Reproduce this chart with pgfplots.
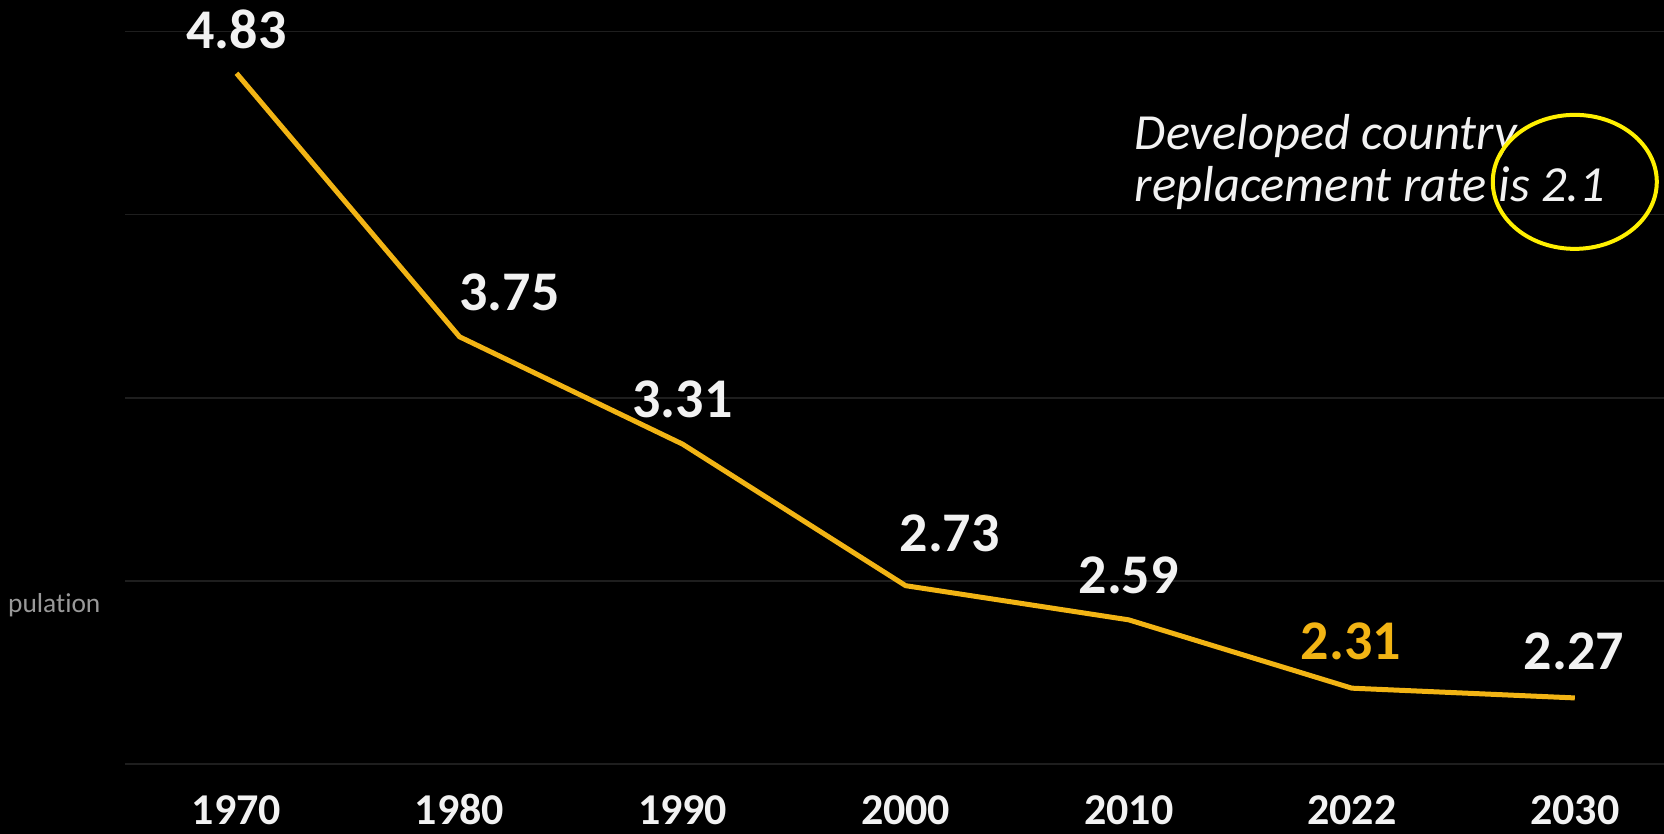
\documentclass[border=0pt]{standalone}
\usepackage{pgfplots}
\pgfplotsset{compat=1.18}
\usepackage{pgfplotstable}
\usepackage{fontspec}
\setmainfont{Carlito}
\newfontfamily\nolig{Carlito}[Ligatures=NoCommon]
\usetikzlibrary{calc,backgrounds}

\definecolor{lineor}{RGB}{242,180,20}
\definecolor{gridc}{RGB}{30,30,30}
\definecolor{txt}{RGB}{242,242,242}
\definecolor{ringy}{RGB}{255,240,0}

% x = category index (1970 ... 2030)
\pgfplotstableread{
x y
0 4.83
1 3.75
2 3.31
3 2.73
4 2.59
5 2.31
6 2.27
}\fertility

% white value labels, dx/dy = offset of the label in pt
\pgfplotstableread{
x y dx dy
0 4.83 0 21.75
1 3.75 25 22.25
2 3.31 0 22.5
3 2.73 22 26
4 2.59 0 22.5
6 2.27 -0.5 23.5
}\whitelabels

\begin{document}
\begin{tikzpicture}
\begin{axis}[
    scale only axis,
    width=769.5pt, height=366pt,
    xmin=-0.5, xmax=6.4,
    ymin=2, ymax=5,
    axis line style={draw=none},
    tick style={draw=none},
    ytick={2,2.75,3.5,4.25,5},
    yticklabels={},
    ymajorgrids,
    grid style={gridc, line width=0.7pt},
    xtick={0,...,6},
    xticklabels={1970,1980,1990,2000,2010,2022,2030},
    xticklabel style={anchor=base, yshift=-30.5pt, inner sep=0pt, text=txt,
        font=\bfseries\fontsize{22}{26}\selectfont},
    clip=false,
]
\addplot[lineor, line width=2.5pt, mark=none] table[x=x, y=y]{\fertility};

% value labels
\addplot[draw=none, mark=none,
    point meta=explicit symbolic,
    visualization depends on={\thisrow{dx}\as\dx},
    visualization depends on={\thisrow{dy}\as\dy},
    nodes near coords,
    nodes near coords style={anchor=center, xshift=\dx pt, yshift=\dy pt,
        text=txt, font=\bfseries\fontsize{28}{32}\selectfont},
] table[x=x, y=y, meta=y]{\whitelabels};

\addplot[draw=none, mark=none,
    point meta=explicit symbolic,
    nodes near coords,
    nodes near coords style={anchor=center, xshift=-0.5pt, yshift=23.3pt,
        text=lineor, font=\bfseries\fontsize{28}{32}\selectfont},
] coordinates {(5,2.31) [2.31]};

\node[anchor=base west, text=txt, font=\itshape\fontsize{25.3}{30}\selectfont]
    at (axis cs:3.996,4.516) {Developed country};
\node[anchor=base west, text=txt, font=\itshape\fontsize{25.3}{30}\selectfont]
    at (axis cs:3.996,4.303) {replacement rate is 2.1};
\node[anchor=east, xshift=-8.75pt, text=gray!80, font=\nolig\fontsize{13.7}{16}\selectfont]
    at (rel axis cs:0,0.2172) {pulation};

\coordinate (ell) at (axis cs:6.0,4.385);
\coordinate (bl) at (rel axis cs:0,0);
\coordinate (tr) at (rel axis cs:1,1);
\end{axis}

\draw[ringy, line width=2pt] (ell) ellipse [x radius=41pt, y radius=33.5pt];

\pgfresetboundingbox
\path[use as bounding box] ($(bl)+(-62.5pt,-35pt)$) rectangle ($(tr)+(0pt,15.9pt)$);
\begin{scope}[on background layer]
\fill[black] ($(bl)+(-62.5pt,-35pt)$) rectangle ($(tr)+(0pt,15.9pt)$);
\end{scope}
\end{tikzpicture}
\end{document}
